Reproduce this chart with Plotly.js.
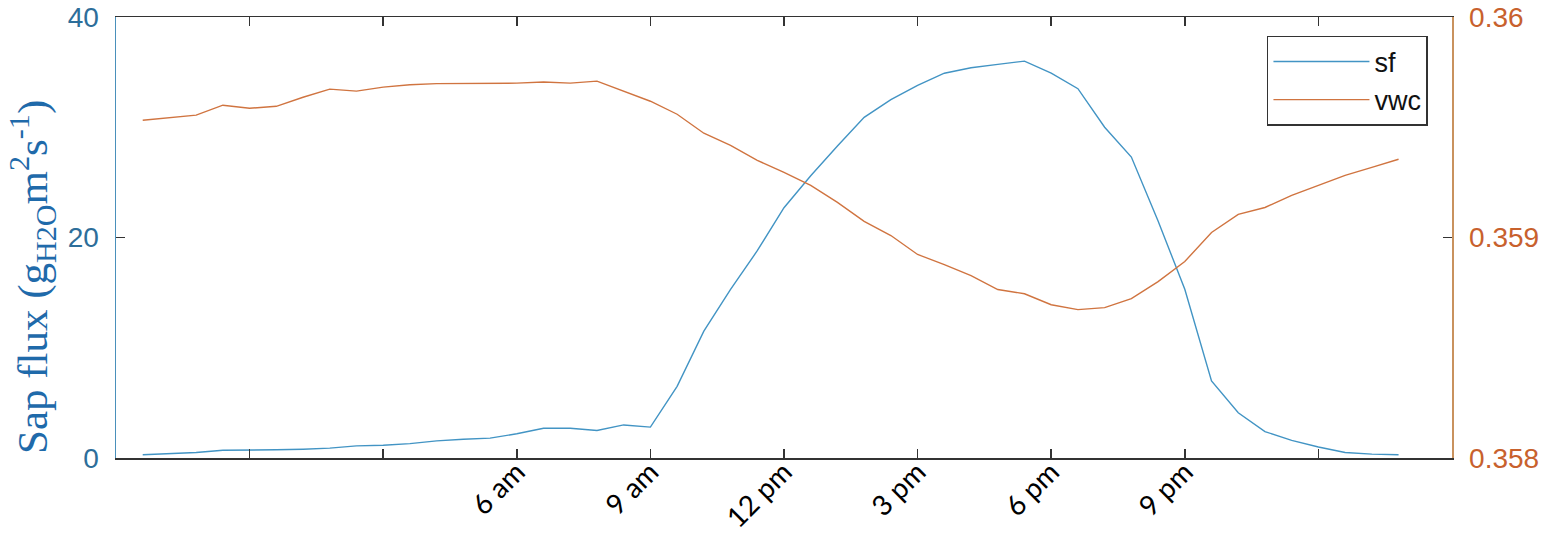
<!DOCTYPE html>
<html>
<head>
<meta charset="utf-8">
<script src="https://cdn.plot.ly/plotly-3.0.1.min.js"></script>
<style>html,body{margin:0;padding:0;background:#fff;}#chart{width:1542px;height:534px;}</style>
</head>
<body>
<div id="chart"></div>
<script>
// time step index (half-hour samples)
const step = [1,2,3,4,5,6,7,8,9,10,11,12,13,14,15,16,17,18,19,20,21,22,23,24,25,26,27,28,29,30,31,32,33,34,35,36,37,38,39,40,41,42,43,44,45,46,47,48];

// sap flux (g_H2O m^2 s^-1)
const sf = [0.3,0.4,0.5,0.7,0.7,0.75,0.8,0.9,1.1,1.15,1.3,1.55,1.7,1.8,2.2,2.7,2.7,2.5,3.0,2.8,
            6.5,11.5,15.3,18.8,22.7,25.6,28.3,30.9,32.5,33.8,34.9,35.4,35.7,36.0,34.9,33.5,30.0,27.3,21.5,15.3,
            7.0,4.1,2.4,1.6,1.0,0.5,0.35,0.3];

// volumetric water content
const vwc = [0.359532,0.359545,0.359555,0.359600,0.359586,0.359595,0.359636,0.359673,0.359664,0.359682,
             0.359693,0.359698,0.359698,0.359698,0.359700,0.359705,0.359700,0.359709,0.359664,0.359618,
             0.359559,0.359473,0.359418,0.359350,0.359295,0.359236,0.359159,0.359073,0.359009,0.358923,
             0.358877,0.358827,0.358764,0.358745,0.358695,0.358673,0.358682,0.358723,0.358800,0.358891,
             0.359023,0.359105,0.359136,0.359191,0.359236,0.359282,0.359318,0.359355];

// axis ticks (labelled ones; unlabelled ticks every 5 steps drawn as minor ticks)
const xTickVals = [15,20,25,30,35,40];
const xTickText = ['6 am','9 am','12 pm','3 pm','6 pm','9 pm'];
const yTickVals = [0,20,40];
const y2TickVals = [0.358,0.359,0.36];
const y2TickText = ['0.358','0.359','0.36'];
const yTitle = 'Sap flux (g<sub>H2O</sub>m<sup>2</sup>s<sup>-1</sup>)';

const traces = [
  {x: step, y: sf, name: 'sf', type: 'scatter', mode: 'lines',
   line: {color: '#4294c4', width: 1.4}, yaxis: 'y'},
  {x: step, y: vwc, name: 'vwc', type: 'scatter', mode: 'lines',
   line: {color: '#d07440', width: 1.4}, yaxis: 'y2'}
];

const layout = {
  width: 1542, height: 534,
  margin: {l: 116, r: 90, t: 17, b: 76},
  paper_bgcolor: '#fff', plot_bgcolor: '#fff',
  showlegend: true,
  legend: {x: 0.982, xanchor: 'right', y: 0.957, yanchor: 'top',
           bordercolor: '#333', borderwidth: 1.5, bgcolor: '#fff',
           itemwidth: 96, tracegroupgap: 0,
           font: {family: 'Liberation Sans, Arial, sans-serif', size: 27, color: '#111'}},
  xaxis: {
    range: [0, 50], tickvals: xTickVals, ticktext: xTickText, tickangle: -45,
    ticks: 'inside', ticklen: 9, tickwidth: 1.5, tickcolor: '#333',
    minor: {tick0: 0, dtick: 5, ticks: 'inside', ticklen: 9, tickwidth: 1.5, tickcolor: '#333', showgrid: false},
    showline: true, linecolor: '#333', linewidth: 1.5, mirror: 'ticks',
    showgrid: false, zeroline: false, ticklabelstandoff: -15,
    tickfont: {family: 'Lato, Open Sans, sans-serif', size: 28, color: '#000'}
  },
  yaxis: {
    range: [0, 40], tickvals: yTickVals,
    ticks: 'inside', ticklen: 9, tickwidth: 1.5, tickcolor: '#333',
    showline: true, linecolor: '#4a90bb', linewidth: 1.5,
    showgrid: false, zeroline: false, ticklabelstandoff: 10,
    tickfont: {family: 'Liberation Sans, Arial, sans-serif', size: 28, color: '#2d6e9a'}
  },
  yaxis2: {
    overlaying: 'y', side: 'right',
    range: [0.358, 0.36], tickvals: y2TickVals, ticktext: y2TickText,
    ticks: 'inside', ticklen: 9, tickwidth: 1.5, tickcolor: '#333',
    showline: true, linecolor: '#c9925e', linewidth: 1.5,
    showgrid: false, zeroline: false, ticklabelstandoff: 10,
    tickfont: {family: 'Liberation Sans, Arial, sans-serif', size: 28, color: '#c8612d'}
  },
  annotations: [{
    text: yTitle, textangle: -90, showarrow: false,
    xref: 'paper', yref: 'paper', x: -0.063, y: 0.41, xanchor: 'center', yanchor: 'middle',
    font: {family: 'Liberation Serif, Times New Roman, serif', size: 43, color: '#1f6aaa'}
  }]
};

Plotly.newPlot('chart', traces, layout, {displayModeBar: false, staticPlot: true});
</script>
</body>
</html>
